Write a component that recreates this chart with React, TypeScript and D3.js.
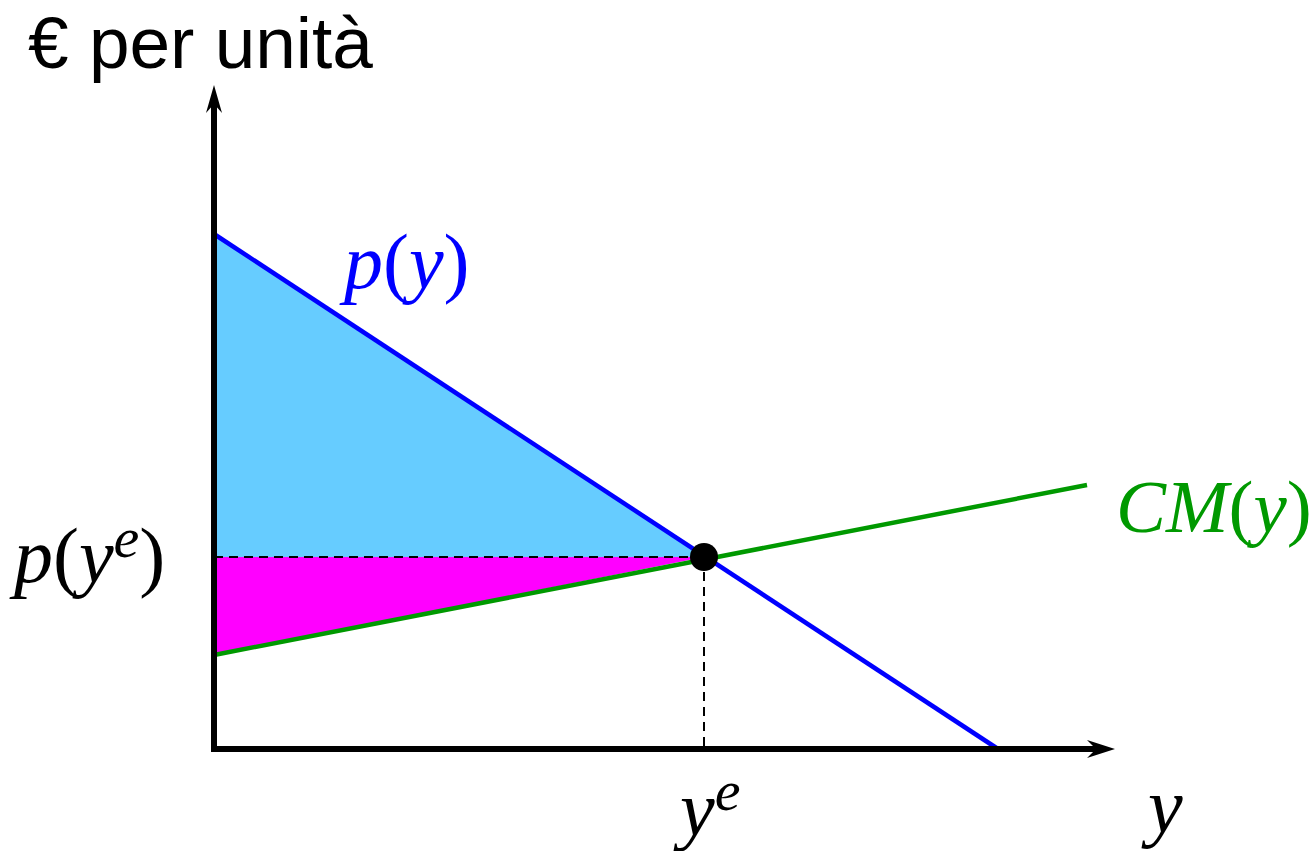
import React from "react";
import * as d3 from "d3";

// Data (in chart units; x = quantity y, y = € per unit)
const demandLine: [number, number][] = [[0, 515], [784, 0]];
const costLine: [number, number][] = [[0, 94], [873, 264]];
const equilibrium: [number, number] = [490, 192];
const axisLabels = { yAxis: "€ per unità", xAxis: "y" };

const W = 1313, H = 851;

export default function App() {
  const x = d3.scaleLinear().domain([0, 900]).range([214, 1114]);
  const y = d3.scaleLinear().domain([0, 660]).range([749, 89]);
  const line = d3.line<[number, number]>().x(d => x(d[0])).y(d => y(d[1]));
  const [ex, ey] = equilibrium;
  const blueFill: [number, number][] = [[0, demandLine[0][1]], [ex, ey], [0, ey]];
  const magFill: [number, number][] = [[0, ey], [ex, ey], [0, costLine[0][1]]];
  const ox = x(0), oy = y(0);
  const serif = "'Liberation Serif', 'Times New Roman', serif";
  return (
    <svg width={W} height={H} style={{ position: "absolute", left: 0, top: 0, background: "#fff" }}>
      <path d={line(blueFill) + "Z"} fill="#66CCFF" />
      <path d={line(magFill) + "Z"} fill="#FF00FF" />
      <line x1={ox} y1={y(ey)} x2={x(ex)} y2={y(ey)} stroke="#000" strokeWidth={2} strokeDasharray="9,6" />
      <line x1={x(ex)} y1={y(ey)} x2={x(ex)} y2={oy} stroke="#000" strokeWidth={2} strokeDasharray="9,6" />
      <path d={line(demandLine)!} stroke="#0000FF" strokeWidth={4.5} fill="none" />
      <path d={line(costLine)!} stroke="#009900" strokeWidth={4.5} fill="none" />
      {/* axes */}
      <line x1={ox} y1={oy} x2={ox} y2={100} stroke="#000" strokeWidth={6} />
      <line x1={ox - 3} y1={oy} x2={1100} y2={oy} stroke="#000" strokeWidth={6} />
      <path d={`M${ox},85 L${ox + 8},113 L${ox},104 L${ox - 8},113 Z`} fill="#000" />
      <path d={`M1115,${oy} L1087,${oy - 9} L1096,${oy} L1087,${oy + 9} Z`} fill="#000" />
      <circle cx={x(ex)} cy={y(ey)} r={14} fill="#000" />
      {/* labels */}
      <text x={28} y={68} fontFamily="'Liberation Sans', Arial, sans-serif" fontSize={73} fill="#000">{axisLabels.yAxis}</text>
      <text x={344} y={288} fontFamily={serif} fontSize={78} fill="#0000FF">
        <tspan fontStyle="italic">p</tspan><tspan>(</tspan><tspan fontStyle="italic">y</tspan><tspan>)</tspan>
      </text>
      <text x={1116} y={532} fontFamily={serif} fontSize={75} fill="#009900">
        <tspan fontStyle="italic">CM</tspan><tspan>(</tspan><tspan fontStyle="italic">y</tspan><tspan>)</tspan>
      </text>
      <text x={14} y={582} fontFamily={serif} fontSize={78} fill="#000">
        <tspan fontStyle="italic">p</tspan><tspan>(</tspan><tspan fontStyle="italic">y</tspan><tspan fontStyle="italic" fontSize={58} dy={-25}>e</tspan><tspan dy={25}>)</tspan>
      </text>
      <text x={680} y={835} fontFamily={serif} fontSize={78} fill="#000">
        <tspan fontStyle="italic">y</tspan><tspan fontStyle="italic" fontSize={58} dy={-25}>e</tspan>
      </text>
      <text x={1148} y={832} fontFamily={serif} fontSize={78} fontStyle="italic" fill="#000">{axisLabels.xAxis}</text>
    </svg>
  );
}
